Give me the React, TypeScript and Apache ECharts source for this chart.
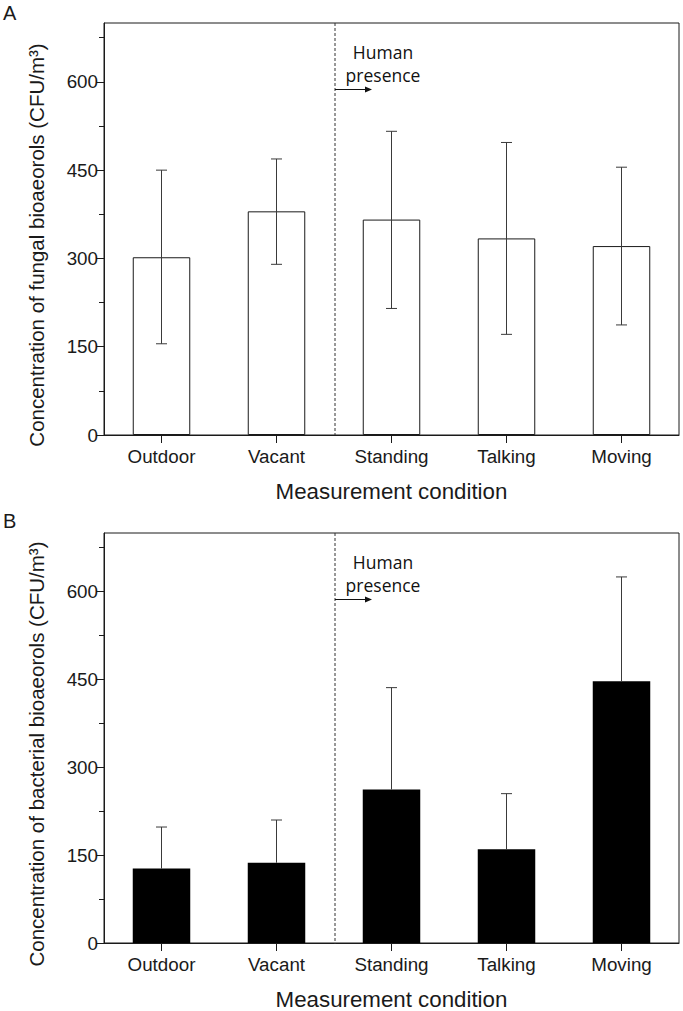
import React, { useEffect, useRef } from "react";
import * as echarts from "echarts";

const categories = ["Outdoor", "Vacant", "Standing", "Talking", "Moving"];
const fungalMean = [302, 380, 366, 334, 321];
const fungalUpper = [450, 469, 516, 497, 455];
const fungalLower = [155, 290, 215, 171, 187];
const bacterialMean = [127, 137, 262, 160, 447];
const bacterialUpper = [198, 210, 436, 255, 625];
const majorTicks = [0, 150, 300, 450, 600];
const minorTicks = [75, 225, 375, 525, 675];

const W = 683;
const H = 1011;
const GL = 104;
const GW = 575;
const GA_TOP = 23;
const GA_H = 412;
const GB_TOP = 533;
const GB_H = 411;

const FONT = "Liberation Sans, Arial, sans-serif";
const INK = "#1a1a1a";

function makeErrRender(showLow: boolean) {
  return (params: any, api: any) => {
    const i = api.value(0);
    const lo = api.value(1);
    const hi = api.value(2);
    const pLo = api.coord([i, lo]);
    const pHi = api.coord([i, hi]);
    const hw = 5.5;
    const st = { stroke: "#3a3a3a", lineWidth: 1 };
    const children: any[] = [
      { type: "line", shape: { x1: pHi[0], y1: pHi[1], x2: pLo[0], y2: pLo[1] }, style: st },
      { type: "line", shape: { x1: pHi[0] - hw, y1: pHi[1], x2: pHi[0] + hw, y2: pHi[1] }, style: st },
    ];
    if (showLow) {
      children.push({ type: "line", shape: { x1: pLo[0] - hw, y1: pLo[1], x2: pLo[0] + hw, y2: pLo[1] }, style: st });
    }
    return { type: "group", children };
  };
}

function majorY(gridIndex: number) {
  return {
    type: "value",
    gridIndex,
    position: "left",
    min: 0,
    max: 700,
    interval: 150,
    axisLine: { show: true, lineStyle: { color: INK, width: 1 } },
    axisTick: { show: true, length: 8, inside: false, lineStyle: { color: INK }, customValues: majorTicks },
    axisLabel: { show: true, fontSize: 18.8, color: INK, fontFamily: FONT, margin: 6, customValues: majorTicks },
    splitLine: { show: false },
  };
}
function minorY(gridIndex: number) {
  return {
    type: "value",
    gridIndex,
    position: "left",
    min: 0,
    max: 700,
    interval: 150,
    axisLine: { show: false },
    axisTick: { show: true, length: 5, inside: false, lineStyle: { color: INK }, customValues: minorTicks },
    axisLabel: { show: false },
    splitLine: { show: false },
  };
}
function catX(gridIndex: number) {
  return {
    type: "category",
    gridIndex,
    data: categories,
    axisLine: { show: true, lineStyle: { color: INK, width: 1 } },
    axisTick: { show: true, alignWithLabel: true, length: 8, lineStyle: { color: INK } },
    axisLabel: { fontSize: 18.8, color: INK, fontFamily: FONT, margin: 12 },
    name: "Measurement condition",
    nameLocation: "middle",
    nameGap: 45,
    nameTextStyle: { fontSize: 22.3, color: INK, fontFamily: FONT },
  };
}

function annotation(top: number, h: number) {
  const x = GL + (GW * 2) / 5 + 1;
  return [
    { type: "line", shape: { x1: x, y1: top, x2: x, y2: top + h }, style: { stroke: "#333", lineWidth: 1, lineDash: [3, 2] }, z: 10 },
    { type: "line", shape: { x1: x, y1: top + 66.5, x2: x + 31, y2: top + 66.5 }, style: { stroke: "#111", lineWidth: 1 }, z: 10 },
    { type: "polygon", shape: { points: [[x + 30, top + 63.5], [x + 37, top + 66.5], [x + 30, top + 69.5]] }, style: { fill: "#111" }, z: 10 },
    { type: "text", x: x + 48, y: top + 29, style: { text: "Human", font: "17.5px 'Open Sans'", fill: "#111", align: "center", verticalAlign: "middle" }, z: 10 },
    { type: "text", x: x + 48, y: top + 52, style: { text: "presence", font: "17.5px 'Open Sans'", fill: "#111", align: "center", verticalAlign: "middle" }, z: 10 },
  ];
}

export default function App() {
  const ref = useRef<HTMLDivElement>(null);
  useEffect(() => {
    if (!ref.current) return;
    const chart = echarts.init(ref.current, null, { renderer: "svg" });
    const option: any = {
      animation: false,
      backgroundColor: "#ffffff",
      grid: [
        { left: GL, top: GA_TOP, width: GW, height: GA_H, show: true, borderColor: INK, borderWidth: 1, backgroundColor: "transparent" },
        { left: GL, top: GB_TOP, width: GW, height: GB_H, show: true, borderColor: INK, borderWidth: 1, backgroundColor: "transparent" },
      ],
      xAxis: [catX(0), catX(1)],
      yAxis: [majorY(0), minorY(0), majorY(1), minorY(1)],
      series: [
        {
          type: "bar",
          xAxisIndex: 0,
          yAxisIndex: 0,
          data: fungalMean,
          barWidth: "50%",
          itemStyle: { color: "#ffffff", borderColor: INK, borderWidth: 1 },
        },
        {
          type: "custom",
          xAxisIndex: 0,
          yAxisIndex: 0,
          renderItem: makeErrRender(true),
          data: categories.map((_, i) => [i, fungalLower[i], fungalUpper[i]]),
          z: 5,
        },
        {
          type: "bar",
          xAxisIndex: 1,
          yAxisIndex: 2,
          data: bacterialMean,
          barWidth: "50%",
          itemStyle: { color: "#000000", borderColor: "#000", borderWidth: 0 },
        },
        {
          type: "custom",
          xAxisIndex: 1,
          yAxisIndex: 2,
          renderItem: makeErrRender(false),
          data: categories.map((_, i) => [i, bacterialMean[i], bacterialUpper[i]]),
          z: 5,
        },
      ],
      graphic: [
        { type: "text", x: 3, y: 3, style: { text: "A", font: `20px ${FONT}`, fill: INK } },
        { type: "text", x: 3, y: 511, style: { text: "B", font: `20px ${FONT}`, fill: INK } },
        {
          type: "text",
          x: 36,
          y: 245,
          rotation: Math.PI / 2,
          style: { text: "Concentration of fungal bioaeorols (CFU/m³)", font: `20.5px ${FONT}`, fill: INK, align: "center", verticalAlign: "middle" },
        },
        {
          type: "text",
          x: 36,
          y: 754,
          rotation: Math.PI / 2,
          style: { text: "Concentration of bacterial bioaeorols (CFU/m³)", font: `20.5px ${FONT}`, fill: INK, align: "center", verticalAlign: "middle" },
        },
        ...annotation(GA_TOP, GA_H),
        ...annotation(GB_TOP, GB_H),
      ],
    };
    chart.setOption(option);
    return () => chart.dispose();
  }, []);
  return <div ref={ref} style={{ position: "absolute", left: 0, top: 0, width: W, height: H }} />;
}
